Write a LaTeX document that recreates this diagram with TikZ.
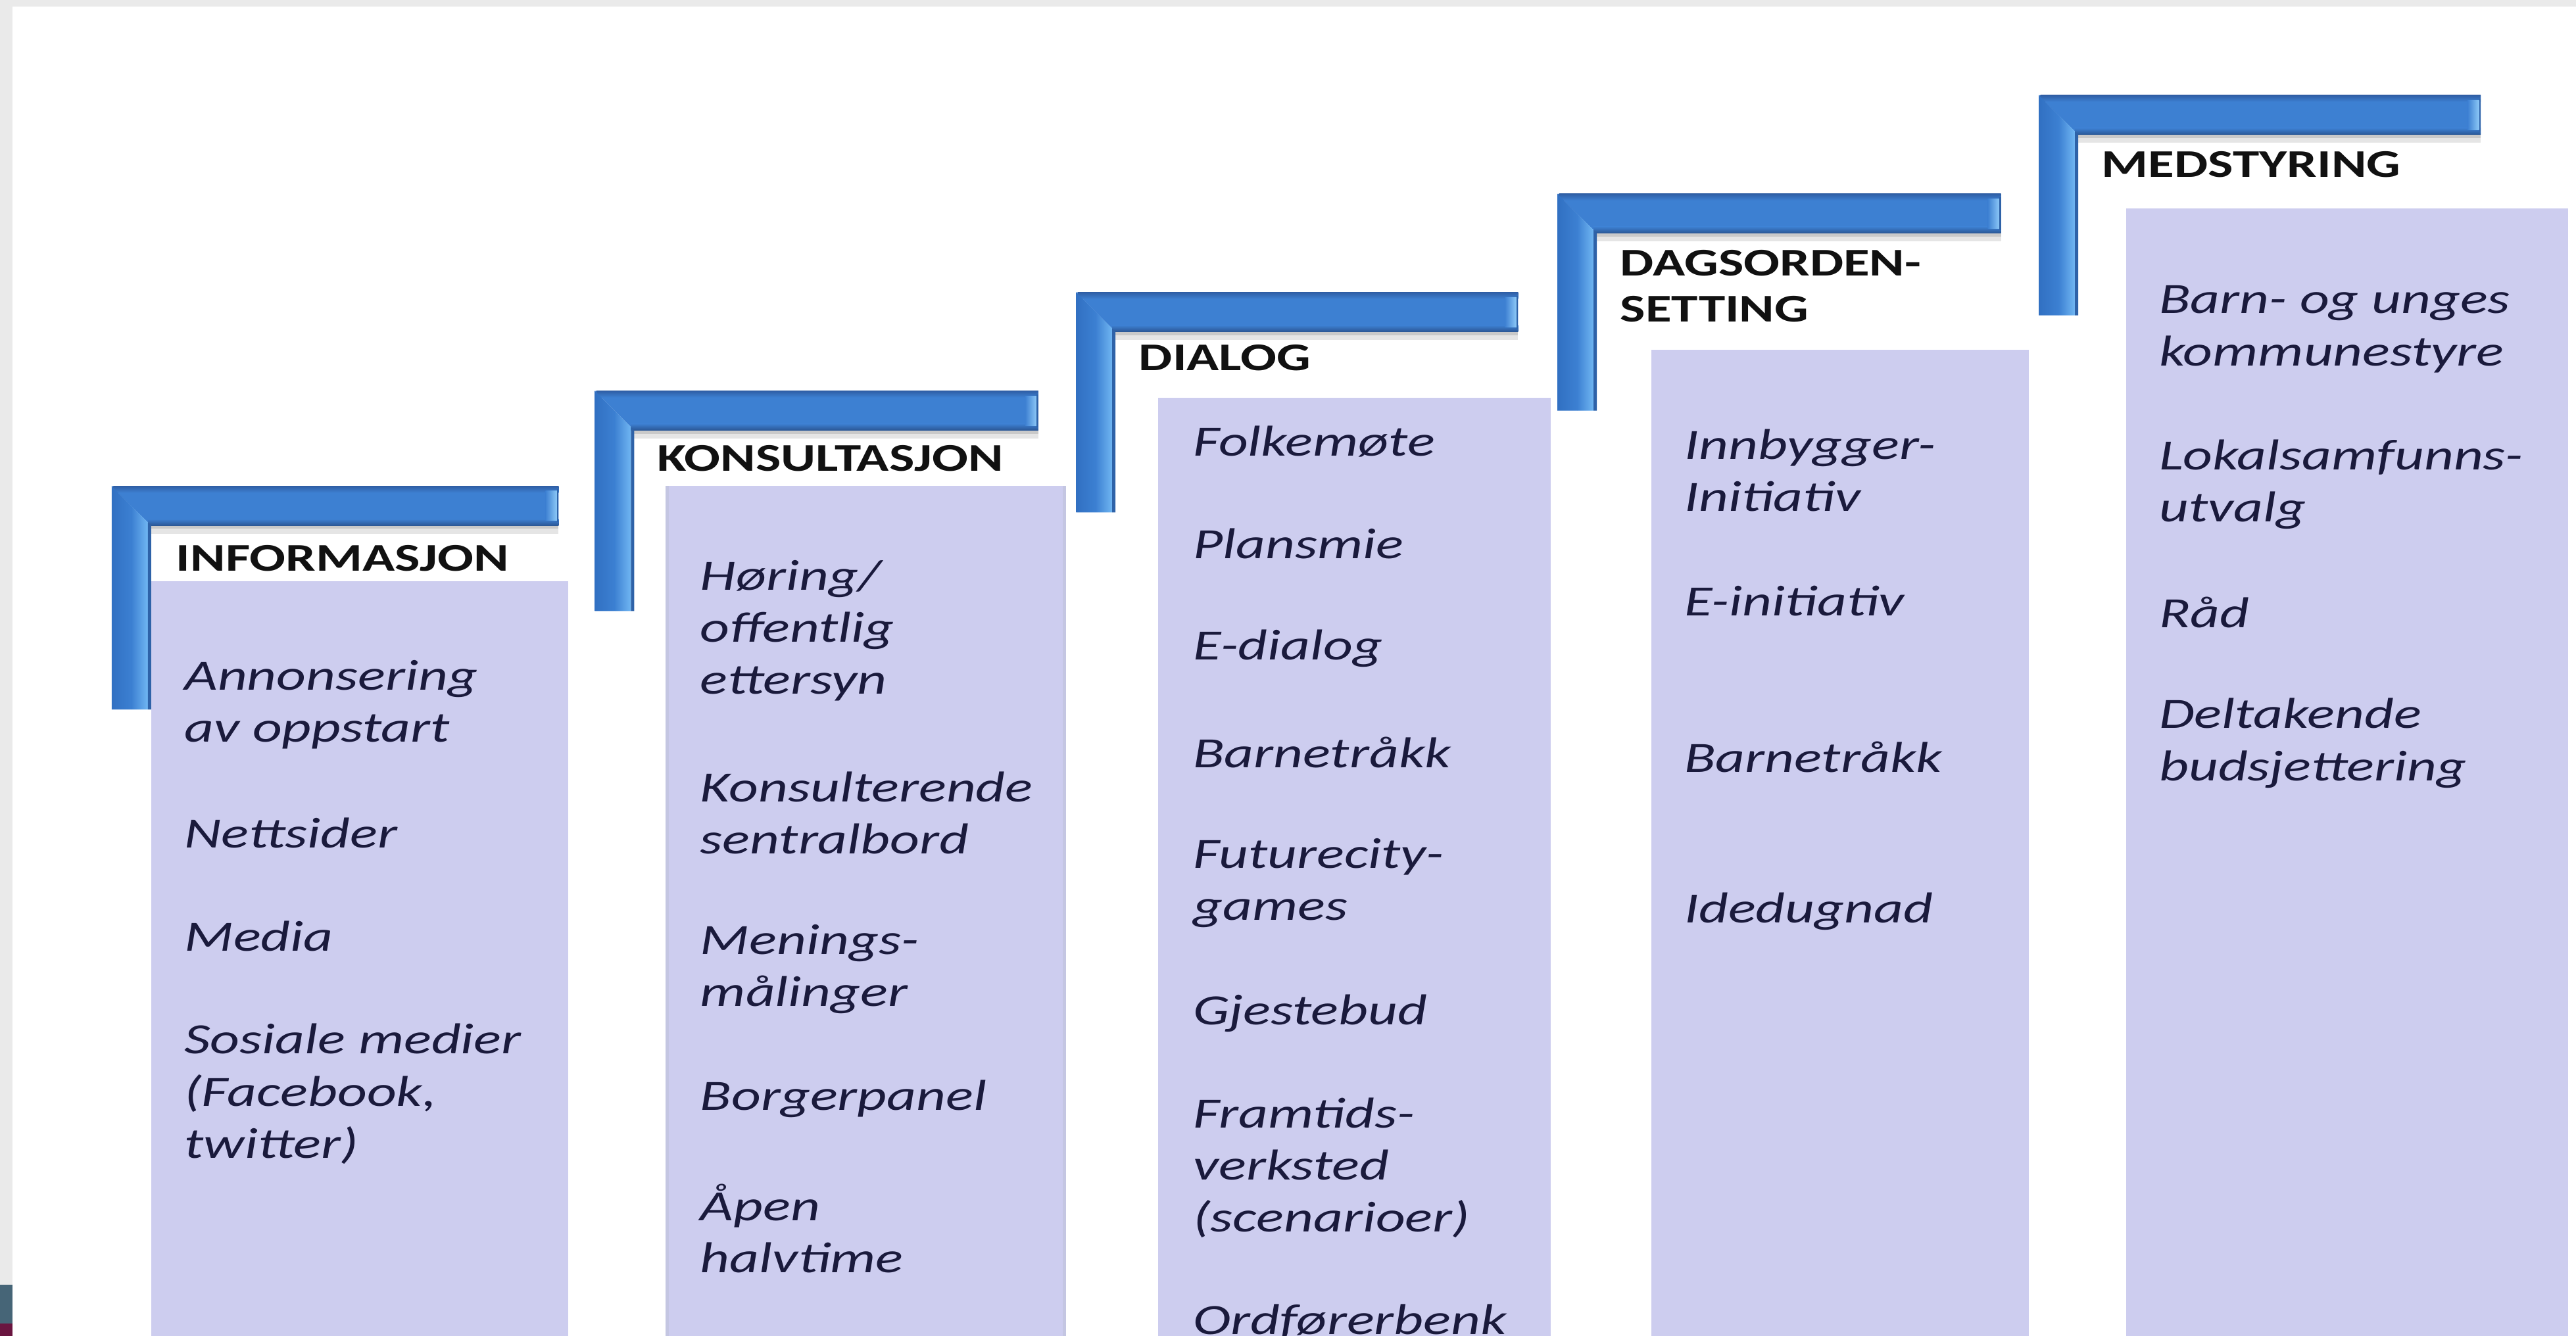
\documentclass[tikz,border=0pt]{standalone}
\usepackage{fontspec}
\newfontfamily\calfont[FakeStretch=1.33]{Carlito}
\newfontfamily\calhfont[FakeStretch=1.36]{Carlito}
\definecolor{boxc}{HTML}{CDCDEF}
\definecolor{boxedge}{HTML}{C4C6E2}
\definecolor{itemc}{HTML}{1A1A3C}
\definecolor{hdrc}{HTML}{111111}
\definecolor{framegrey}{HTML}{EAEAEA}
\definecolor{hTop}{HTML}{2F5FA6}
\definecolor{hMid}{HTML}{3D80D2}
\definecolor{hBot}{HTML}{2A5694}
\definecolor{vLeft}{HTML}{3170C2}
\definecolor{vMid}{HTML}{3C80D2}
\definecolor{vRight}{HTML}{70B6F2}
\definecolor{vEdge}{HTML}{2E62A8}
\definecolor{capLight}{HTML}{8CC8F7}
\definecolor{slate}{HTML}{466577}
\definecolor{maroon}{HTML}{6A1540}
\newcommand\stairbracket[4]{%
  \fill[black,opacity=0.10] (#1+24,#2+24) rectangle (#3,#2+29);
  \fill[black,opacity=0.12] (#1+24,#2+24) rectangle (#3,#2+26);
  \fill[hMid] (#1,#2) -- (#3,#2) -- (#3,#2+24) -- (#1+24,#2+24) -- cycle;
  \shade[top color=hTop,bottom color=hMid] (#1+1,#2) rectangle (#3,#2+4);
  \shade[top color=hMid,bottom color=hBot] (#1+22,#2+20) rectangle (#3,#2+24);
  \shade[left color=hMid,right color=capLight]
    (#3-8,#2+3) -- (#3-1,#2+3) -- (#3-1,#2+21) -- (#3-8,#2+21) -- cycle;
  \fill[vEdge] (#3-1,#2+2) rectangle (#3,#2+22);
  \shade[left color=vLeft,right color=vMid]
    (#1,#2) -- (#1+12,#2+12) -- (#1+12,#4) -- (#1,#4) -- cycle;
  \shade[left color=vMid,right color=vRight]
    (#1+12,#2+12) -- (#1+22,#2+22) -- (#1+22,#4) -- (#1+12,#4) -- cycle;
  \fill[vEdge] (#1+22,#2+22) -- (#1+24,#2+24) -- (#1+24,#4) -- (#1+22,#4) -- cycle;
}
\tikzset{
  item/.style={anchor=west,align=left,inner sep=0pt,text=itemc,
    font=\calfont\itshape\fontsize{18.7}{22.6}\selectfont},
  hdr/.style={anchor=west,align=left,inner sep=0pt,text=hdrc,
    font=\calhfont\bfseries\fontsize{17}{19.9}\selectfont},
  colbox/.style={fill=boxc}
}
\begin{document}
\begin{tikzpicture}[x=0.025cm,y=-0.025cm]
\useasboundingbox (0,0) rectangle (1568,813.4);
\fill[white] (0,0) rectangle (1568,813.4);
\fill[framegrey] (0,0) rectangle (1568,4);
\fill[framegrey] (0,0) rectangle (7.6,813.4);
\fill[slate] (0,782) rectangle (7.6,806);
\fill[maroon] (0,806) rectangle (7.6,813.4);

% boxes
\fill[colbox] (92,354) rectangle (346,813.4);
\fill[colbox] (405,296) rectangle (649,813.4);
\fill[colbox] (705,242) rectangle (944,813.4);
\fill[colbox] (1005,213) rectangle (1235,813.4);
\fill[colbox] (1294,127) rectangle (1563,813.4);
\fill[boxedge] (405,296) rectangle (407,813.4);
\fill[boxedge] (647,296) rectangle (649,813.4);

% brackets
\stairbracket{68}{296}{340}{432}
\stairbracket{362}{238}{632}{372}
\stairbracket{655}{178}{924}{312}
\stairbracket{948}{118}{1218}{250}
\stairbracket{1241}{58}{1510}{192}

% headers
\node[hdr] (h1) at (107,340) {INFORMASJON};
\node[hdr] (h2) at (400,279) {KONSULTASJON};
\node[hdr] (h3) at (693,218) {DIALOG};
\node[hdr] (h4) at (986,174) {DAGSORDEN-\\SETTING};
\node[hdr] (h5) at (1279,100) {MEDSTYRING};

% column 1
\node[item] (c1a) at (112,429) {Annonsering\\av oppstart};
\node[item] (c1b) at (112,507) {Nettsider};
\node[item] (c1c) at (112,570) {Media};
\node[item] (c1d) at (112,666) {Sosiale medier\\(Facebook,\\twitter)};

% column 2
\node[item] (c2a) at (426,384) {Høring/\\offentlig\\ettersyn};
\node[item] (c2b) at (426,495) {Konsulterende\\sentralbord};
\node[item] (c2c) at (426,590) {Menings-\\målinger};
\node[item] (c2d) at (426,669) {Borgerpanel};
\node[item] (c2e) at (426,748) {Åpen\\halvtime};

% column 3
\node[item] (c3a) at (726,269) {Folkemøte};
\node[item] (c3b) at (726,331) {Plansmie};
\node[item] (c3c) at (726,395) {E-dialog};
\node[item] (c3d) at (726,458) {Barnetråkk};
\node[item] (c3e) at (726,537.5) {Futurecity-\\games};
\node[item] (c3f) at (726,617) {Gjestebud};
\node[item] (c3g) at (726,711) {Framtids-\\verksted\\(scenarioer)};
\node[item] (c3h) at (726,805) {Ordførerbenk};

% column 4
\node[item] (c4a) at (1025,286.5) {Innbygger-\\Initiativ};
\node[item] (c4b) at (1025,366) {E-initiativ};
\node[item] (c4c) at (1025,461) {Barnetråkk};
\node[item] (c4d) at (1025,555) {Idedugnad};

% column 5
\node[item] (c5a) at (1314,200.5) {Barn- og unges\\kommunestyre};
\node[item] (c5b) at (1314,295) {Lokalsamfunns-\\utvalg};
\node[item] (c5c) at (1314,373) {Råd};
\node[item] (c5d) at (1314,452.5) {Deltakende\\budsjettering};
\end{tikzpicture}
\end{document}
